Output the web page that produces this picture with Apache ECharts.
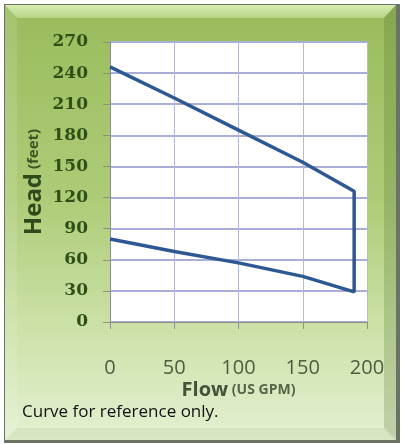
<!DOCTYPE html>
<html><head><meta charset="utf-8">
<script src="https://cdn.jsdelivr.net/npm/echarts@6/dist/echarts.min.js"></script>
<style>html,body{margin:0;padding:0;background:#fff}#c{width:401px;height:444px}</style>
</head><body><div id="c"></div>
<script>
// Data
var flowTicks = [0, 50, 100, 150, 200];
var headTicks = [0, 30, 60, 90, 120, 150, 180, 210, 240, 270];
var lowerFlow = [0, 50, 100, 150, 190];
var lowerHead = [80, 68, 57, 44, 29];
var upperFlow = [0, 50, 100, 150, 190];
var upperHead = [246, 216, 185, 154, 126];

var pts = [];
for (var i = 0; i < lowerFlow.length; i++) pts.push([lowerFlow[i], lowerHead[i]]);
for (var j = upperFlow.length - 1; j >= 0; j--) pts.push([upperFlow[j], upperHead[j]]);

var chart = echarts.init(document.getElementById('c'), null, {renderer: 'canvas'});
chart.setOption({
  animation: false,
  backgroundColor: '#ffffff',
  graphic: [
    {type: 'rect', z: -10, shape: {x: 4, y: 4, width: 396, height: 439},
      style: {fill: '#6a7462'}},
    {type: 'rect', z: -9, shape: {x: 5, y: 5, width: 391, height: 435},
      style: {fill: {type: 'linear', x: 0, y: 0, x2: 0, y2: 1, colorStops: [
        {offset: 0, color: '#9abb5c'}, {offset: 0.45, color: '#aecc78'},
        {offset: 0.75, color: '#cde2a9'}, {offset: 1, color: '#e4f0d2'}]}}},
    {type: 'polygon', z: -8, shape: {points: [[5,5],[396,5],[384,18],[17,18]]},
      style: {fill: {type: 'linear', x: 0, y: 0, x2: 0, y2: 1, colorStops: [
        {offset: 0, color: '#d9edb2'}, {offset: 1, color: '#b5d384'}]}}},
    {type: 'polygon', z: -8, shape: {points: [[5,5],[17,18],[17,428],[5,440]]},
      style: {fill: 'rgba(255,255,255,0.12)'}},
    {type: 'polygon', z: -8, shape: {points: [[396,5],[396,440],[384,428],[384,18]]},
      style: {fill: 'rgba(70,100,30,0.22)'}},
    {type: 'polygon', z: -8, shape: {points: [[5,440],[396,440],[384,428],[17,428]]},
      style: {fill: 'rgba(80,110,40,0.08)'}},
    {type: 'text', left: 22, top: 404, style: {text: 'Curve for reference only.', fill: '#111111',
      font: '17px "Open Sans", sans-serif'}}
  ],
  grid: {left: 110, right: 34, top: 42, bottom: 122, show: true, backgroundColor: '#ffffff', borderWidth: 0},
  xAxis: {
    type: 'value', min: 0, max: 200, interval: 50,
    name: '{a|Flow}{b| (US GPM)}', nameLocation: 'middle', nameGap: 58, nameMoveOverlap: false,
    nameTextStyle: {rich: {
      a: {fontFamily: 'Open Sans', fontWeight: 'bold', fontSize: 20, color: '#44523a'},
      b: {fontFamily: 'Open Sans', fontWeight: 'bold', fontSize: 14, color: '#56644a'}}},
    axisLine: {show: true, lineStyle: {color: '#8a9184', width: 1}},
    axisTick: {show: true, length: 7, lineStyle: {color: '#8a9184'}},
    axisLabel: {margin: 36, fontFamily: 'Open Sans', fontSize: 20, color: '#4d5b40',
      formatter: function (v) { return flowTicks.indexOf(v) >= 0 ? String(v) : ''; }},
    splitLine: {show: true, lineStyle: {color: '#b3b8dc', width: 1}}
  },
  yAxis: {
    type: 'value', min: 0, max: 270, interval: 30,
    name: '{a|Head}{b| (feet)}', nameLocation: 'middle', nameGap: 64, nameRotate: 90, nameMoveOverlap: false,
    nameTextStyle: {rich: {
      a: {fontFamily: 'Open Sans', fontWeight: 'bold', fontSize: 24, color: '#2e4a1a'},
      b: {fontFamily: 'Open Sans', fontWeight: 'bold', fontSize: 15, color: '#3b5526'}}},
    axisLine: {show: true, lineStyle: {color: '#8a9184', width: 1}},
    axisTick: {show: true, length: 7, lineStyle: {color: '#8a9184'}},
    axisLabel: {margin: 22, fontFamily: 'DejaVu Serif', fontWeight: 'bold', fontSize: 17, color: '#2f4f17',
      formatter: function (v) { return headTicks.indexOf(v) >= 0 ? String(v) : ''; }},
    splitLine: {show: true, lineStyle: {color: '#a9aed8', width: 2}}
  },
  series: [{
    type: 'line', data: pts, symbol: 'none', smooth: false,
    lineStyle: {color: '#2d5893', width: 3.5}
  }]
});
</script></body></html>
